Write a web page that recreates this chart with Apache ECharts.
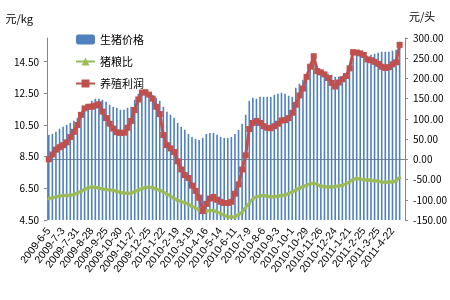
<!DOCTYPE html>
<html><head><meta charset="utf-8">
<script src="https://cdn.jsdelivr.net/npm/echarts@6/dist/echarts.min.js"></script>
<style>html,body{margin:0;padding:0;background:#fff}#c{width:450px;height:300px}</style>
</head><body><div id="c"></div>
<script>
const categories = [
'2009-6-5','2009-6-12','2009-6-19','2009-6-26','2009-7-3','2009-7-10','2009-7-17','2009-7-24','2009-7-31','2009-8-7','2009-8-14','2009-8-21','2009-8-28','2009-9-4','2009-9-11','2009-9-18','2009-9-25','2009-10-9','2009-10-16','2009-10-23','2009-10-30','2009-11-6','2009-11-13','2009-11-20','2009-11-27','2009-12-4','2009-12-11','2009-12-18','2009-12-25',
'2010-1-1','2010-1-8','2010-1-15','2010-1-22','2010-1-29','2010-2-5','2010-2-12','2010-2-19','2010-2-26','2010-3-5','2010-3-12','2010-3-19','2010-3-26','2010-4-2','2010-4-9','2010-4-16','2010-4-23','2010-4-30','2010-5-7','2010-5-14','2010-5-21','2010-5-28','2010-6-4','2010-6-11','2010-6-18','2010-6-25','2010-7-2','2010-7-9','2010-7-16','2010-7-23','2010-7-30','2010-8-6','2010-8-13','2010-8-20','2010-8-27','2010-9-3','2010-9-10','2010-9-17','2010-9-24','2010-10-1','2010-10-8','2010-10-15','2010-10-22','2010-10-29','2010-11-5','2010-11-12','2010-11-19','2010-11-26','2010-12-3','2010-12-10','2010-12-17','2010-12-24','2010-12-31',
'2011-1-7','2011-1-14','2011-1-21','2011-1-28','2011-2-11','2011-2-18','2011-2-25','2011-3-4','2011-3-11','2011-3-18','2011-3-25','2011-4-1','2011-4-8','2011-4-15','2011-4-22','2011-4-29','2011-5-6','2011-5-13'
];
const hogPrice = [
9.88,9.94,10.07,10.26,10.39,10.51,10.64,10.77,10.96,11.15,11.40,11.72,12.03,12.16,12.16,12.10,11.97,11.78,11.65,11.59,11.46,11.46,11.59,11.65,12.09,12.47,12.66,12.66,12.54,12.41,
12.22,12.03,11.65,11.34,11.15,10.96,10.64,10.39,10.20,9.94,9.75,9.63,9.56,9.69,9.94,10.00,10.00,9.88,9.75,9.69,9.69,9.75,9.94,10.20,10.58,11.15,12.03,12.22,12.16,12.28,
12.28,12.28,12.28,12.41,12.47,12.54,12.47,12.35,12.28,12.85,13.11,13.36,13.61,14.12,14.50,14.25,14.00,13.87,13.74,13.68,13.55,13.55,13.61,13.74,14.12,14.75,14.94,15.00,14.94,14.88,
14.94,15.00,15.07,15.13,15.13,15.13,15.20,15.26,15.77
];
const hogGrainRatio = [
5.88,5.92,5.98,6.04,6.06,6.06,6.08,6.12,6.22,6.32,6.45,6.56,6.60,6.58,6.52,6.47,6.44,6.42,6.38,6.32,6.26,6.22,6.20,6.22,6.30,6.40,6.50,6.57,6.58,6.55,
6.47,6.40,6.28,6.15,6.02,5.88,5.76,5.68,5.60,5.50,5.38,5.26,5.16,5.02,5.06,5.12,5.10,5.02,4.92,4.80,4.72,4.70,4.72,4.85,5.00,5.30,5.58,5.85,5.98,6.04,
6.06,6.02,5.98,5.98,6.02,6.06,6.10,6.18,6.28,6.40,6.52,6.62,6.70,6.80,6.84,6.75,6.65,6.62,6.60,6.60,6.64,6.66,6.70,6.80,6.92,7.08,7.14,7.10,7.06,7.04,
7.02,7.00,6.96,6.92,6.90,6.92,6.92,6.98,7.22
];
const profit = [
0,12,24,30,35,42,55,68,85,110,126,130,130,133,136,118,102,88,76,67,65,66,78,95,122,148,165,166,160,150,
130,112,60,35,27,18,-5,-25,-39,-46,-65,-78,-95,-128,-110,-97,-93,-100,-105,-108,-108,-105,-85,-62,-25,10,75,90,95,90,
82,78,77,82,88,96,97,102,115,135,158,175,204,229,255,218,215,210,201,189,180,190,198,206,225,265,264,262,258,247,
245,241,236,229,226,228,235,240,283
];
const leftTicks = {min: 4.5, max: 16, interval: 2};
const rightTicks = {min: -150, max: 300, interval: 50};

const chart = echarts.init(document.getElementById('c'));
const axisCol = '#868686';
const font = '"Noto Sans CJK SC", "Liberation Sans", sans-serif';
chart.setOption({
  animation: false,
  textStyle: {fontFamily: font},
  grid: {left: 47, right: 40, top: 38, bottom: 80, containLabel: false},
  legend: {
    orient: 'vertical', left: 70, top: 29, itemGap: 11, itemWidth: 19, itemHeight: 10,
    textStyle: {fontSize: 11, color: '#000', fontFamily: font},
    data: ['生猪价格', '猪粮比', '养殖利润']
  },
  xAxis: {
    type: 'category', data: categories, boundaryGap: true,
    axisLine: {lineStyle: {color: axisCol}},
    axisTick: {interval: 0, length: 3, lineStyle: {color: axisCol}},
    axisLabel: {interval: 3, rotate: 52, fontSize: 10.5, color: '#000', margin: 9, fontFamily: '"Liberation Sans", sans-serif'}
  },
  yAxis: [{
    type: 'value', min: leftTicks.min, max: leftTicks.max, interval: leftTicks.interval,
    name: '元/kg', nameLocation: 'end', nameGap: 14,
    nameTextStyle: {fontSize: 11, color: '#000', align: 'right', padding: [0, 14, 0, 0]},
    axisLine: {show: true, lineStyle: {color: axisCol}},
    axisTick: {show: true, length: 3, lineStyle: {color: axisCol}},
    splitLine: {show: false},
    axisLabel: {fontSize: 10, color: '#000', showMaxLabel: false, formatter: v => v.toFixed(2)}
  }, {
    type: 'value', min: rightTicks.min, max: rightTicks.max, interval: rightTicks.interval,
    name: '元/头', nameLocation: 'end', nameGap: 16,
    nameTextStyle: {fontSize: 11, color: '#000', align: 'left', padding: [0, 0, 0, 4]},
    axisLine: {show: true, lineStyle: {color: axisCol}},
    axisTick: {show: true, length: 3, lineStyle: {color: axisCol}},
    splitLine: {show: false},
    axisLabel: {fontSize: 10, color: '#000', formatter: v => v.toFixed(2)}
  }],
  series: [{
    name: '生猪价格', type: 'bar', data: hogPrice, yAxisIndex: 0, barWidth: '45%',
    itemStyle: {color: '#4F81BD'}
  }, {
    name: '猪粮比', type: 'line', data: hogGrainRatio, yAxisIndex: 0,
    symbol: 'triangle', symbolSize: 4, showAllSymbol: true,
    lineStyle: {color: '#9BBB59', width: 3}, itemStyle: {color: '#9BBB59'}
  }, {
    name: '养殖利润', type: 'line', data: profit, yAxisIndex: 1,
    symbol: 'rect', symbolSize: 6, showAllSymbol: true,
    lineStyle: {color: '#C0504D', width: 3}, itemStyle: {color: '#C0504D'}
  }]
});
</script></body></html>
